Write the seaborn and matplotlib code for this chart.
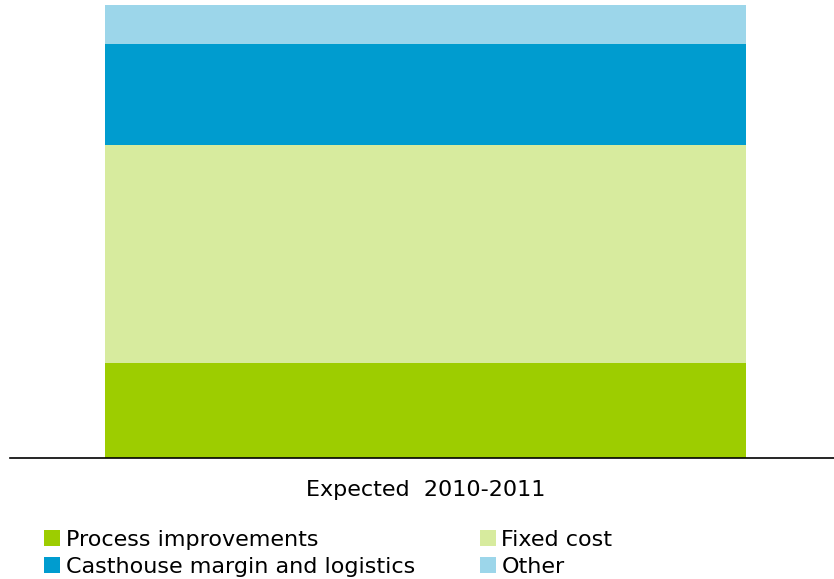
import matplotlib
matplotlib.use("Agg")
import matplotlib.pyplot as plt
import seaborn as sns
import pandas as pd
import numpy as np
from matplotlib.patches import Patch

categories = ["Expected  2010-2011"]
series = ["Process improvements", "Fixed cost", "Casthouse margin and logistics", "Other"]
values = [21, 48, 22.5, 8.5]
colors = ["#9dcd00", "#d7eb9e", "#009ccf", "#9cd6ea"]

sns.set_style("white")
plt.rcParams['font.family'] = ['DejaVu Sans']
plt.rcParams['text.color'] = 'black'
plt.rcParams['xtick.color'] = 'black'

fig = plt.figure(figsize=(8.34, 5.79), dpi=100)
W, H = 834, 579
ax = fig.add_axes([10 / W, (H - 458) / H, (834 - 10) / W, (458 - 5) / H])

cum = np.cumsum(values)
for i in range(len(series) - 1, -1, -1):
    df = pd.DataFrame({"cat": categories, "val": [cum[i]]})
    sns.barplot(data=df, x="cat", y="val", color=colors[i], width=0.8,
                saturation=1, ax=ax, linewidth=0)

ax.set_ylim(0, cum[-1])
ax.set_xlim(-0.4 - 95 / 801, 0.4 + 88 / 801)
ax.set_xlabel("")
ax.set_ylabel("")
ax.set_yticks([])
for s in ["top", "left", "right"]:
    ax.spines[s].set_visible(False)
ax.spines["bottom"].set_color("black")
ax.spines["bottom"].set_linewidth(1.2)
ax.tick_params(axis="x", length=0, pad=16, labelsize=16, labelcolor="black")

handles = [Patch(facecolor=c, edgecolor="none") for c in colors]
order = [0, 2, 1, 3]
fs = 16
fpx = fs * 100 / 72
fig.legend([handles[i] for i in order], [series[i] for i in order],
           ncol=2, frameon=False, loc="upper left",
           bbox_to_anchor=(44 / W, 1 - 530 / H), fontsize=fs,
           handlelength=16 / fpx, handleheight=16 / fpx, handletextpad=0.25,
           columnspacing=65 / fpx, labelspacing=0.3, borderpad=0, borderaxespad=0,
           labelcolor="black")

fig.savefig("out.png", dpi=100)
